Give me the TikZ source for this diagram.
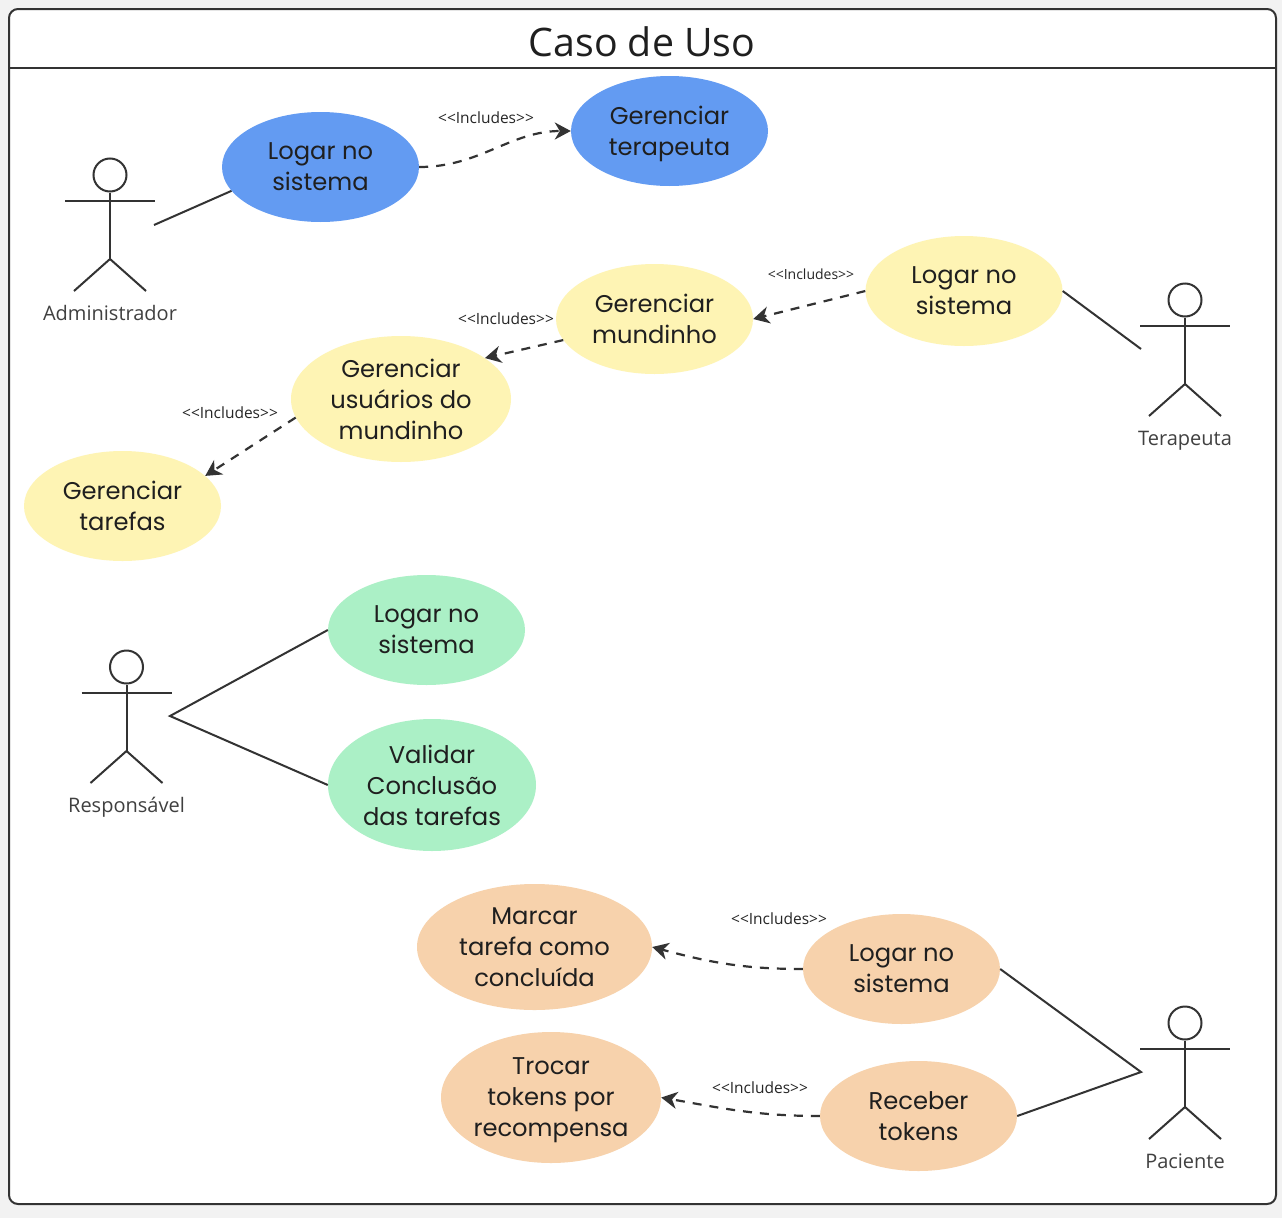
\documentclass[tikz,border=0pt]{standalone}
\usepackage{fontspec}
\usetikzlibrary{arrows.meta,shapes.geometric}
\newfontfamily\labelfont{Open Sans}
\newfontfamily\casefont{Poppins}
\definecolor{casepage}{RGB}{242,242,242}
\definecolor{caseline}{RGB}{51,51,51}
\definecolor{caseblue}{RGB}{99,155,242}
\definecolor{caseyellow}{RGB}{254,244,180}
\definecolor{casegreen}{RGB}{171,240,198}
\definecolor{casepeach}{RGB}{247,210,172}
\tikzset{
 usecase/.style={ellipse,inner xsep=0pt,inner ysep=-12pt,minimum width=197pt,minimum height=110pt,align=center,text=black!88,font=\casefont\fontsize{24.2}{31}\selectfont,text depth=-2pt},
 bigcase/.style={usecase,minimum width=220pt,minimum height=126pt},
 link/.style={line width=2pt,draw=caseline},
 includes/.style={line width=2.2pt,draw=caseline,dash pattern=on 9pt off 8pt,-{Stealth[length=16pt,width=17pt,inset=5pt]}},
 stereotype/.style={font=\labelfont\fontsize{15.5}{18}\selectfont,text=black!85},
 actor/.pic={
  \node[circle,draw=caseline,line width=2pt,minimum size=33pt,inner sep=0pt] (-head) at (0,0) {};
  \coordinate (-hip) at (0,84);
  \draw[link] (-head)--(-hip); \draw[link] (-45,26)--(45,26);
  \draw[link] (-36,116)--(-hip)--(36,116);
  \node[anchor=base,font=\labelfont\fontsize{20}{24}\selectfont,text=black!75] (-name) at (0,145) {#1};
 }}
\begin{document}
\begin{tikzpicture}[x=1pt,y=-1pt]
\fill[casepage] (0,0) rectangle (1282,1218);
\node[draw=caseline,fill=white,line width=2pt,rounded corners=9pt,minimum width=1267pt,minimum height=1195pt,inner sep=0pt] (frame) at (642.5,606.5) {};
\coordinate (split) at (0,68);
\draw[link] (frame.west |- split)--(frame.east |- split);
\node[font=\labelfont\fontsize{39.3}{48}\selectfont,text=black!88] (title) at (642,41.5) {Caso de Uso};
% administrador
\pic (adm) at (110,175) {actor=Administrador};
\node[usecase,fill=caseblue,text depth=-7pt] (admlogin) at (320.5,167) {Logar no\\sistema};
\node[usecase,fill=caseblue] (admterapeuta) at (669.5,131) {Gerenciar\\terapeuta};
\coordinate (admhand) at (154,225);
\draw[link] (admhand)--(admlogin.195);
\draw[includes] (admlogin.east) to[out=0,in=180] (admterapeuta.west);
\node[stereotype] (inc1) at (486,118) {<<Includes>>};
% terapeuta
\pic (ter) at (1185,300) {actor=Terapeuta};
\node[usecase,fill=caseyellow,text depth=0pt] (terlogin) at (964,291) {Logar no\\sistema};
\node[usecase,fill=caseyellow,text depth=0pt] (termundinho) at (654.5,319) {Gerenciar\\mundinho};
\node[bigcase,fill=caseyellow,text depth=-6pt] (terusuarios) at (401,399) {Gerenciar\\usuários do\\mundinho};
\node[usecase,fill=caseyellow,text depth=-1pt] (tertarefas) at (122.5,506) {Gerenciar\\tarefas};
\coordinate (terhand) at (1141,349);
\draw[link] (terhand)--(terlogin.east);
\draw[includes] (terlogin.west)--(termundinho.east);
\draw[includes] (termundinho.193)--(terusuarios.26);
\draw[includes] (terusuarios.190)--(tertarefas.20);
\node[stereotype,font=\labelfont\fontsize{14}{16}\selectfont] (inc2) at (811,274) {<<Includes>>};
\node[stereotype] (inc3) at (506,319) {<<Includes>>};
\node[stereotype] (inc4) at (230,413) {<<Includes>>};
% responsavel
\pic (res) at (126.5,667) {actor=Responsável};
\node[usecase,fill=casegreen,text depth=-3pt] (reslogin) at (426.5,630) {Logar no\\sistema};
\node[usecase,fill=casegreen,minimum width=208pt,minimum height=132pt,text depth=-1pt] (resvalidar) at (432,785) {Validar\\Conclusão\\das tarefas};
\coordinate (reshand) at (170,716);
\draw[link] (reslogin.west)--(reshand)--(resvalidar.west);
% paciente
\pic (pac) at (1185,1023) {actor=Paciente};
\node[usecase,fill=casepeach,text depth=-4pt] (paclogin) at (901.5,969) {Logar no\\sistema};
\node[usecase,fill=casepeach,text depth=-4pt] (pacreceber) at (918.5,1116) {Receber\\tokens};
\node[bigcase,fill=casepeach,minimum width=235pt,text depth=-11pt] (pacmarcar) at (534.5,947) {Marcar\\tarefa como\\concluída};
\node[bigcase,fill=casepeach,minimum height=131pt,text depth=-6pt] (pactrocar) at (551,1097.5) {Trocar\\tokens por\\recompensa};
\coordinate (pachand) at (1141,1072);
\draw[link] (paclogin.east)--(pachand)--(pacreceber.east);
\draw[includes] (paclogin.west) to[out=180,in=-15] (pacmarcar.east);
\draw[includes] (pacreceber.west) to[out=180,in=-10] (pactrocar.east);
\node[stereotype] (inc5) at (779,919) {<<Includes>>};
\node[stereotype] (inc6) at (760,1088) {<<Includes>>};
\end{tikzpicture}
\end{document}
